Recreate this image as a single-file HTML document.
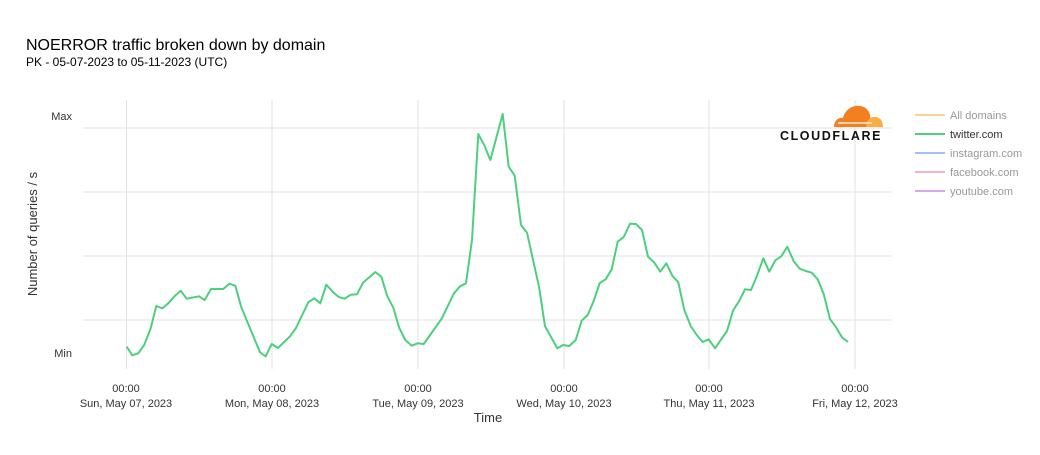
<!DOCTYPE html>
<html><head><meta charset="utf-8"><style>
body{margin:0;background:#fff;font-family:"Liberation Sans",sans-serif;}
</style></head><body>
<svg width="1040" height="450" xmlns="http://www.w3.org/2000/svg" font-family="Liberation Sans, sans-serif">
<rect width="1040" height="450" fill="#fff"/>
<text x="26" y="50" font-size="16" fill="#000">NOERROR traffic broken down by domain</text>
<text x="26" y="66" font-size="12" fill="#000">PK - 05-07-2023 to 05-11-2023 (UTC)</text>
<g stroke="#e2e2e2" stroke-width="1">
<line x1="83" y1="128" x2="891" y2="128"/><line x1="83" y1="192" x2="891" y2="192"/>
<line x1="83" y1="256" x2="891" y2="256"/><line x1="83" y1="320" x2="891" y2="320"/>
<line x1="126.5" y1="100" x2="126.5" y2="369"/><line x1="272" y1="100" x2="272" y2="369"/>
<line x1="418" y1="100" x2="418" y2="369"/><line x1="564" y1="100" x2="564" y2="369"/>
<line x1="709" y1="100" x2="709" y2="369"/><line x1="855" y1="100" x2="855" y2="369"/>
</g>
<text x="72" y="120" font-size="11" fill="#333" text-anchor="end">Max</text>
<text x="72" y="357" font-size="11" fill="#333" text-anchor="end">Min</text>
<text transform="translate(37,234) rotate(-90)" font-size="13" fill="#333" text-anchor="middle">Number of queries / s</text>
<g font-size="11" fill="#333" text-anchor="middle">
<text x="126" y="392">00:00</text><text x="126" y="407">Sun, May 07, 2023</text>
<text x="272" y="392">00:00</text><text x="272" y="407">Mon, May 08, 2023</text>
<text x="418" y="392">00:00</text><text x="418" y="407">Tue, May 09, 2023</text>
<text x="564" y="392">00:00</text><text x="564" y="407">Wed, May 10, 2023</text>
<text x="709" y="392">00:00</text><text x="709" y="407">Thu, May 11, 2023</text>
<text x="855" y="392">00:00</text><text x="855" y="407">Fri, May 12, 2023</text>
</g>
<text x="488" y="422" font-size="13" fill="#333" text-anchor="middle">Time</text>
<polyline fill="none" stroke="#4cd07d" stroke-width="2" stroke-linejoin="round" points="126.7,346.7 132.3,355.3 138.3,353.3 144.3,344.7 150.7,328.3 156.3,306 162.3,308.3 168.3,303.3 175,295.7 180.7,290.7 186.7,298.7 199,296.3 204.7,300 211,289 223.3,289 229.3,283.7 235.3,285.7 241.3,307.3 260,352.3 265.7,356.3 271.7,344 278,348 290,336.3 296,328 308.3,302.3 314.3,298.3 320.3,303.3 326.3,284.7 332.7,291.7 338.7,297 344.7,298.7 350.7,294.7 357,294.3 363,282.7 375.3,272 381.3,276.7 387.3,296.3 393.3,307.7 399.3,328 405.3,340 411.7,345.7 417.7,343.3 423.7,344 441.7,318.7 454,293.3 460,286.3 466,283.3 472,240 478.3,134 484.3,145.3 490.3,160 502.7,114 508.7,166.7 514.7,175.7 521,225 527,232.7 539,286.7 545,326.3 557.3,348.3 563.3,345 569.3,346 575.7,340 581.7,320.7 587.7,315 593.7,301 599.7,283 605.7,279.3 611.7,269.3 617.7,241.7 623.7,237 630,223.7 636,224 642,230 648,256.7 654,262.3 660.3,271.7 666.3,263.3 672.3,275.7 678.3,282.3 684.3,310 690.7,326 696.7,335 702.7,342 708.7,339.3 715,348.3 727,331 733,310.7 739,301.3 745,289.3 751,290 757,275.7 763.3,258.3 769.3,271.7 775.3,260.3 781.3,256.3 787.3,246.7 793.7,261.3 799.7,268.7 805.7,271 811.7,272.7 817.7,279.3 823.7,294 830,319 836,327.3 842,337.3 848,342"/>
<!-- logo -->
<g>
<path d="M834,127 C834,120 839,117 843,118 C845,110 852,105 859,106 C865,106 869,110 870,115 L871,127 Z" fill="#f38020"/>
<path d="M866,127 C866,121 870,116 876,117 C881,118 883,122 883,127 Z" fill="#fbad41"/>
<line x1="838" y1="123" x2="872" y2="123" stroke="#fff" stroke-width="1.2"/>
<text x="831" y="140" font-size="12.5" font-weight="bold" fill="#111" text-anchor="middle" letter-spacing="1.6">CLOUDFLARE</text>
</g>
<g font-size="11" fill="#999">
<line x1="915" y1="115" x2="945" y2="115" stroke="#fbd38d" stroke-width="2"/><text x="950" y="119">All domains</text>
<line x1="915" y1="134" x2="945" y2="134" stroke="#4cd07d" stroke-width="2"/><text x="950" y="138" fill="#333">twitter.com</text>
<line x1="915" y1="153" x2="945" y2="153" stroke="#a3bffa" stroke-width="2"/><text x="950" y="157">instagram.com</text>
<line x1="915" y1="172" x2="945" y2="172" stroke="#f5b3c7" stroke-width="2"/><text x="950" y="176">facebook.com</text>
<line x1="915" y1="191" x2="945" y2="191" stroke="#d6a6f0" stroke-width="2"/><text x="950" y="195">youtube.com</text>
</g>
</svg>
</body></html>
